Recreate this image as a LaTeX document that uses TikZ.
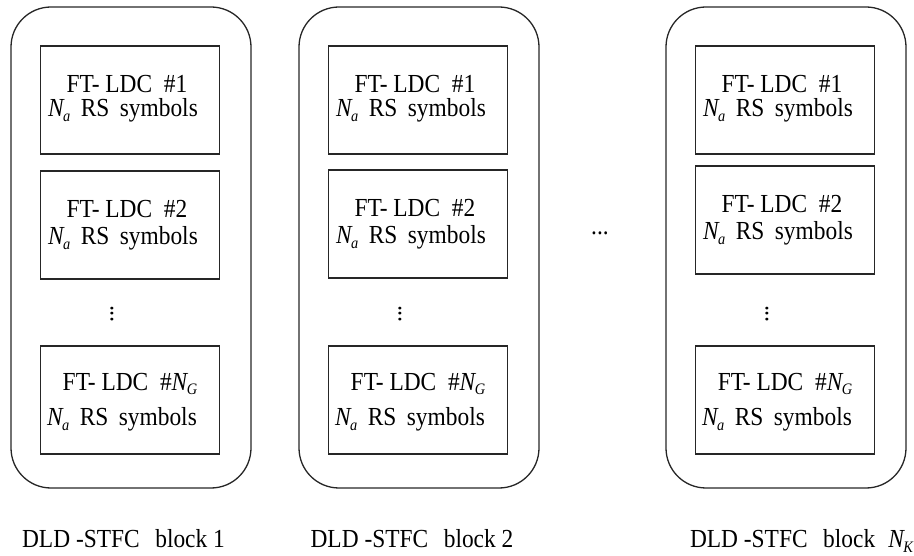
\documentclass[tikz,border=0pt]{standalone}
\usepackage{fontspec}
\setmainfont{Liberation Serif}[FakeStretch=0.9]
\usetikzlibrary{calc}
\newcommand\subit[2]{{\itshape #1}\kern-0.5pt\raisebox{-5pt}{\fontsize{16}{16}\selectfont\itshape #2}}
\newcommand\myvdots{\rotatebox{90}{...}}
\begin{document}
\begin{tikzpicture}[x=1pt,y=-1pt,
  every node/.style={font=\fontsize{26}{28}\selectfont, inner sep=0pt, outer sep=0pt},
  blockbox/.style={draw=black!85, line width=1.3pt, rounded corners=40pt,
    minimum width=240pt, minimum height=481pt, anchor=north west},
  ldcbox/.style={draw=black!85, line width=1.3pt,
    minimum width=179pt, minimum height=108pt, anchor=north west},
  txt/.style={anchor=base}]
\useasboundingbox (0,0) rectangle (914,556);
\foreach \i/\ox/\mtop in {1/11/171, 2/299/170, 3/666/166} {
  \node[blockbox] (B\i) at (\ox,7) {};
  \node[ldcbox] (b\i-1) at (\ox+29.5,46) {};
  \node[ldcbox] (b\i-2) at (\ox+29.5,\mtop) {};
  \node[ldcbox] (b\i-n) at (\ox+29.5,346) {};
  \node[txt] (t\i-1a) at ($(b\i-1.north)+(-3,47)$) {FT- LDC\hspace{0.45em}\#1};
  \node[txt] (t\i-1b) at ($(b\i-1.north)+(-7,71)$) {\subit{N}{a}\hspace{0.4em}RS\hspace{0.4em}symbols};
  \node[txt] (t\i-2a) at ($(b\i-2.north)+(-3,47)$) {FT- LDC\hspace{0.45em}\#2};
  \node[txt] (t\i-2b) at ($(b\i-2.north)+(-7,74)$) {\subit{N}{a}\hspace{0.4em}RS\hspace{0.4em}symbols};
  \node[txt] (t\i-na) at ($(b\i-n.north)+(0,44)$) {FT- LDC\hspace{0.45em}\#\subit{N}{G}};
  \node[txt] (t\i-nb) at ($(b\i-n.north)+(-8,79)$) {\subit{N}{a}\hspace{0.4em}RS\hspace{0.4em}symbols};
  \node (v\i) at (\ox+101,314) {\myvdots};
}
\node (hd) at (600,233) {...};
\node[anchor=base] (L1) at (123.5,547) {DLD -STFC\hspace{0.6em}block 1};
\node[anchor=base] (L2) at (412,547) {DLD -STFC\hspace{0.6em}block 2};
\node[anchor=base west] (L3) at (690,547) {DLD -STFC\hspace{0.6em}block\hspace{0.5em}\subit{N}{K}};
\end{tikzpicture}
\end{document}
